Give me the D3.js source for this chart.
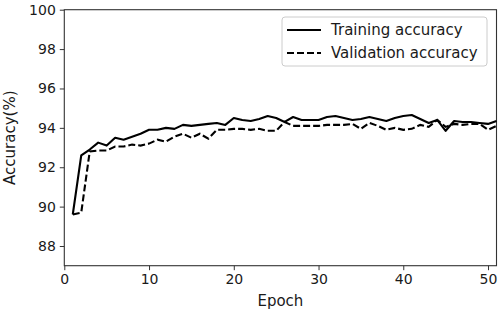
<!DOCTYPE html>
<html>
<head>
<meta charset="utf-8">
<script src="https://cdn.jsdelivr.net/npm/d3@7"></script>
<style>
  body { margin: 0; background: #fff; }
  svg text { font-family: "DejaVu Sans", sans-serif; fill: #1a1a1a; }
</style>
</head>
<body>
<div id="chart"></div>
<script>
const epochs = d3.range(1, 52);
const training = [89.6, 92.6, 92.9, 93.25, 93.1, 93.5, 93.4, 93.55, 93.7, 93.9,
                  93.9, 94.0, 93.95, 94.15, 94.1, 94.15, 94.2, 94.25, 94.15, 94.5,
                  94.4, 94.35, 94.45, 94.6, 94.5, 94.3, 94.55, 94.4, 94.4, 94.4,
                  94.55, 94.6, 94.5, 94.4, 94.45, 94.55, 94.45, 94.35, 94.5, 94.6,
                  94.65, 94.45, 94.25, 94.4, 93.85, 94.35, 94.3, 94.3, 94.25, 94.2,
                  94.35];
const validation = [89.6, 89.7, 92.8, 92.85, 92.85, 93.05, 93.05, 93.15, 93.1, 93.2,
                    93.4, 93.3, 93.55, 93.7, 93.5, 93.7, 93.45, 93.9, 93.9, 93.95,
                    93.95, 93.9, 93.95, 93.85, 93.85, 94.3, 94.1, 94.1, 94.1, 94.1,
                    94.15, 94.15, 94.15, 94.2, 93.95, 94.25, 94.1, 93.9, 94.0, 93.9,
                    93.95, 94.15, 94.05, 94.4, 94.05, 94.2, 94.15, 94.2, 94.2, 93.9,
                    94.1];
const xTicks = [0, 10, 20, 30, 40, 50];
const yTicks = [88, 90, 92, 94, 96, 98, 100];
const seriesNames = ["Training accuracy", "Validation accuracy"];

const width = 498, height = 314;
const margin = { top: 9.7, right: 1.5, bottom: 48.3, left: 64.3 };

const svg = d3.select("#chart").append("svg")
  .attr("width", width)
  .attr("height", height);

const x = d3.scaleLinear().domain([0, 51]).range([margin.left, width - margin.right]);
const y = d3.scaleLinear().domain([87, 100]).range([height - margin.bottom, margin.top]);

// axes
const xAxis = svg.append("g")
  .attr("transform", `translate(0,${height - margin.bottom})`)
  .call(d3.axisBottom(x).tickValues(xTicks).tickSize(4.5).tickPadding(4).tickSizeOuter(0));
const yAxis = svg.append("g")
  .attr("transform", `translate(${margin.left},0)`)
  .call(d3.axisLeft(y).tickValues(yTicks).tickSize(4.5).tickPadding(4).tickSizeOuter(0));
[xAxis, yAxis].forEach(a => {
  a.selectAll("text").attr("font-size", 14).attr("fill", "#1a1a1a");
  a.selectAll("line").attr("stroke", "#333").attr("stroke-width", 1);
  a.select(".domain").remove();
});

// frame
svg.append("rect")
  .attr("x", margin.left).attr("y", margin.top)
  .attr("width", width - margin.right - margin.left)
  .attr("height", height - margin.bottom - margin.top)
  .attr("fill", "none").attr("stroke", "#333").attr("stroke-width", 1.1);

svg.append("text")
  .attr("x", (margin.left + width - margin.right) / 2)
  .attr("y", 306)
  .attr("text-anchor", "middle")
  .attr("font-size", 15)
  .text("Epoch");
svg.append("text")
  .attr("transform", `translate(15,${(margin.top + height - margin.bottom) / 2}) rotate(-90)`)
  .attr("text-anchor", "middle")
  .attr("font-size", 15)
  .text("Accuracy(%)");

// lines
const plot = svg.append("g");
const line = d3.line().x((d, i) => x(epochs[i])).y(d => y(d));
plot.append("path").datum(training)
  .attr("d", line).attr("fill", "none")
  .attr("stroke", "#000").attr("stroke-width", 2.1)
  .attr("stroke-linejoin", "round");
plot.append("path").datum(validation)
  .attr("d", line).attr("fill", "none")
  .attr("stroke", "#000").attr("stroke-width", 2.1)
  .attr("stroke-dasharray", "7,3");

// legend
const lg = svg.append("g").attr("transform", "translate(282,17)");
lg.append("rect")
  .attr("width", 205).attr("height", 49).attr("rx", 3)
  .attr("fill", "#fff").attr("stroke", "#ccc").attr("stroke-width", 1);
seriesNames.forEach((name, i) => {
  const yy = 13 + i * 23;
  lg.append("line")
    .attr("x1", 5).attr("x2", 39).attr("y1", yy).attr("y2", yy)
    .attr("stroke", "#000").attr("stroke-width", 2.1)
    .attr("stroke-dasharray", i === 1 ? "7,3" : null);
  lg.append("text")
    .attr("x", 49).attr("y", yy).attr("dy", "0.35em")
    .attr("font-size", 15)
    .text(name);
});
</script>
</body>
</html>
